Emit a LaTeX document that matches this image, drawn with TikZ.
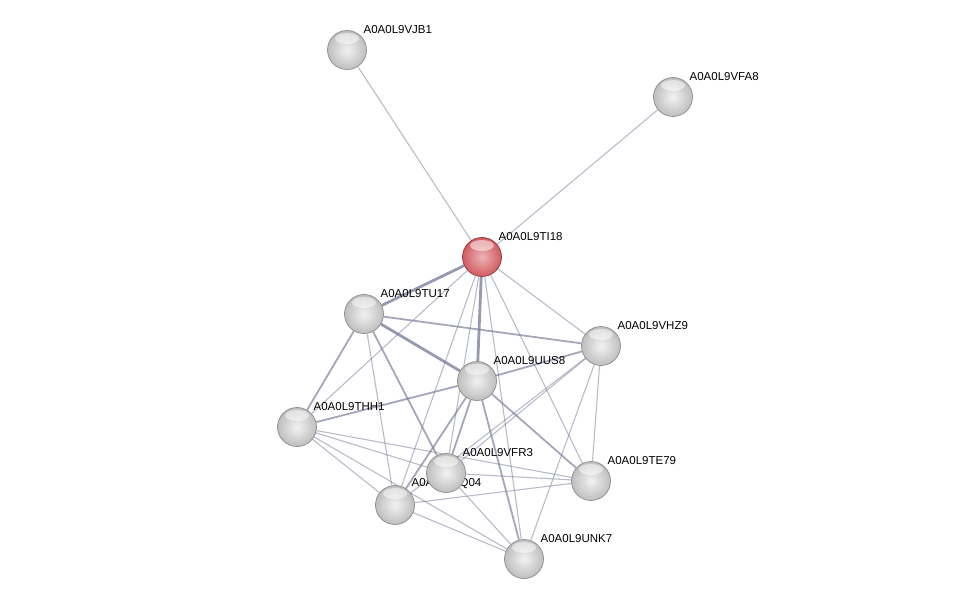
\documentclass[tikz,border=0pt]{standalone}
\usepackage{fontspec}
\setmainfont{Liberation Sans}
\usetikzlibrary{backgrounds, shadings}

\definecolor{edgecol}{RGB}{115,120,150}
\definecolor{protgray}{RGB}{190,190,190}
\definecolor{protred}{RGB}{210,90,95}

\begin{document}
\begin{tikzpicture}[
		x=1pt, y=-1pt,
		prot/.style={circle, minimum size=39pt, inner sep=0pt, draw=black!45, line width=0.7pt, inner color=white!95!black, outer color=protgray,
			path picture={\fill[white, opacity=0.5] ([yshift=-8pt]path picture bounding box.north) ellipse (12pt and 5.5pt);}},
		query/.style={prot, inner color=protred!45!white, outer color=protred, draw=protred!65!black},
		lbl/.style={font=\fontsize{11.5}{13}\selectfont, inner sep=1pt, label distance=2pt},
		weak/.style={draw=edgecol, draw opacity=0.5, line width=1.1pt},
		medium/.style={draw=edgecol, draw opacity=0.65, line width=1.8pt},
		strong/.style={draw=edgecol, draw opacity=0.75, line width=2.8pt}
	]
	
		\useasboundingbox (0,0) rectangle (975,604);

		% Nodes
		\node[prot, label={[lbl]45:A0A0L9VJB1}] (vjb1) at (347,50) {};
		\node[prot, label={[lbl]45:A0A0L9VFA8}] (vfa8) at (673,97) {};
		\node[query, label={[lbl]45:A0A0L9TI18}] (ti18) at (482,257) {};
		\node[prot, label={[lbl]45:A0A0L9TU17}] (tu17) at (364,314) {};
		\node[prot, label={[lbl]45:A0A0L9VHZ9}] (vhz9) at (601,346) {};
		\node[prot, label={[lbl]45:A0A0L9UUS8}] (uus8) at (477,381) {};
		\node[prot, label={[lbl]45:A0A0L9THH1}] (thh1) at (297,427) {};
		\node[prot, label={[lbl]45:A0A0L9TQ04}] (q04) at (395,505) {};
		\node[prot, label={[lbl]45:A0A0L9VFR3}] (vfr3) at (446,473) {};
		\node[prot, label={[lbl]45:A0A0L9TE79}] (te79) at (591,481) {};
		\node[prot, label={[lbl]45:A0A0L9UNK7}] (unk7) at (524,559) {};

		% Edges
		\begin{scope}[on background layer]
		\draw[weak] (ti18) -- (vjb1);
		\draw[weak] (ti18) -- (vfa8);
		\draw[strong] (ti18) -- (tu17);
		\draw[strong] (ti18) -- (uus8);
		\draw[weak] (ti18) -- (vhz9);
		\draw[weak] (ti18) -- (thh1);
		\draw[weak] (ti18) -- (q04);
		\draw[weak] (ti18) -- (vfr3);
		\draw[weak] (ti18) -- (unk7);
		\draw[weak] (ti18) -- (te79);
		\draw[strong] (tu17) -- (uus8);
		\draw[medium] (tu17) -- (vhz9);
		\draw[medium] (tu17) -- (thh1);
		\draw[weak] (tu17) -- (q04);
		\draw[medium] (tu17) -- (vfr3);
		\draw[medium] (uus8) -- (vhz9);
		\draw[medium] (uus8) -- (thh1);
		\draw[medium] (uus8) -- (vfr3);
		\draw[medium] (uus8) -- (q04);
		\draw[medium] (uus8) -- (unk7);
		\draw[medium] (uus8) -- (te79);
		\draw[weak] (vhz9) -- (vfr3);
		\draw[weak] (vhz9) -- (q04);
		\draw[weak] (vhz9) -- (te79);
		\draw[weak] (vhz9) -- (unk7);
		\draw[weak] (thh1) -- (vfr3);
		\draw[weak] (thh1) -- (te79);
		\draw[weak] (thh1) -- (q04);
		\draw[weak] (thh1) -- (unk7);
		\draw[weak] (q04) -- (te79);
		\draw[weak] (q04) -- (unk7);
		\draw[weak] (vfr3) -- (unk7);
		\draw[weak] (vfr3) -- (te79);
		\end{scope}

	\end{tikzpicture}
\end{document}
